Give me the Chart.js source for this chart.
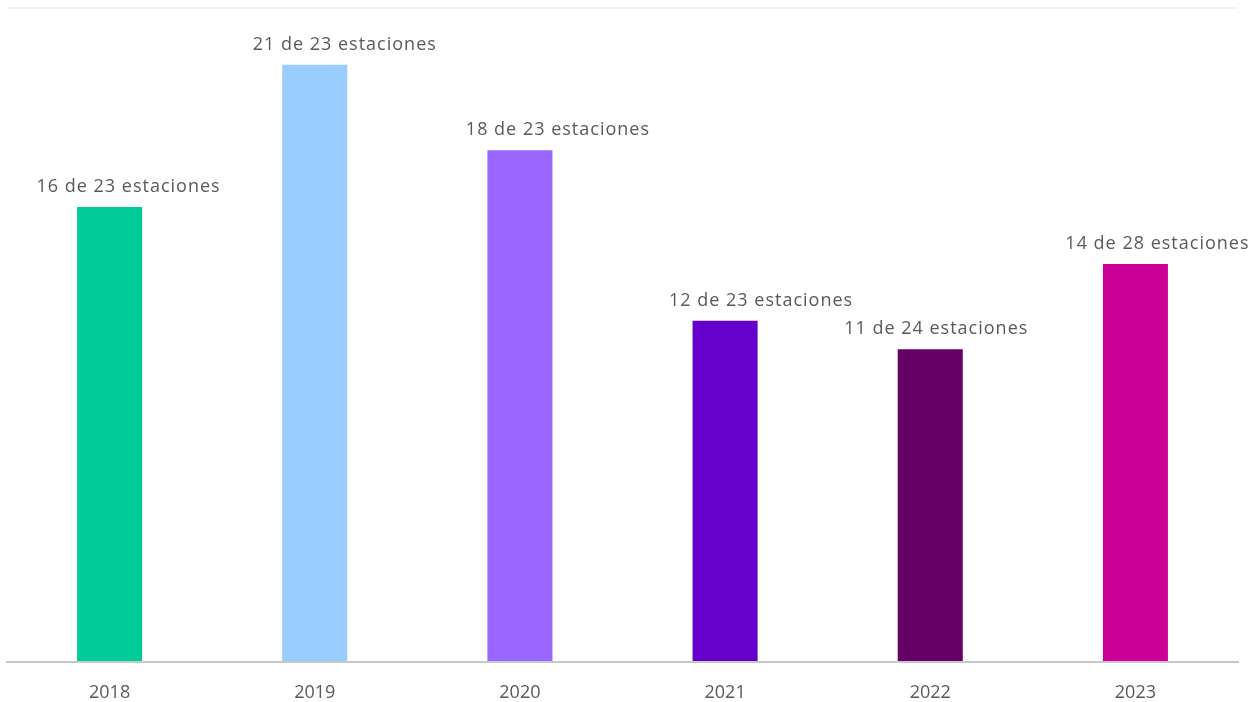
<!DOCTYPE html>
<html>
<head>
<meta charset="utf-8">
<script src="https://cdn.jsdelivr.net/npm/chart.js@4/dist/chart.umd.min.js"></script>
<style>
  html, body { margin: 0; padding: 0; background: #ffffff; }
  #wrap { width: 1259px; height: 702px; position: relative; }
</style>
</head>
<body>
<div id="wrap"><canvas id="chart" width="1259" height="702"></canvas></div>
<script>
const years = ['2018', '2019', '2020', '2021', '2022', '2023'];
const stationsOver = [16, 21, 18, 12, 11, 14];
const stationsTotal = [23, 23, 23, 23, 24, 28];
const barColors = ['#00CC99', '#99CCFF', '#9966FF', '#6600CC', '#660066', '#CC0099'];
const yMax = 23;

const barLabels = stationsOver.map((v, i) => v + ' de ' + stationsTotal[i] + ' estaciones');

// Bar annotations, nudged sideways per bar so they sit like the hand-placed originals
const labelPlugin = {
  id: 'barLabels',
  afterDatasetsDraw(chart, args, opts) {
    const ctx = chart.ctx;
    const meta = chart.getDatasetMeta(0);
    const shift = opts.shiftX || [];
    ctx.save();
    ctx.font = '18px "Open Sans", sans-serif';
    ctx.letterSpacing = '1px';
    ctx.fillStyle = '#595959';
    ctx.textAlign = 'center';
    ctx.textBaseline = 'bottom';
    meta.data.forEach((bar, i) => {
      ctx.fillText(barLabels[i], bar.x + (shift[i] || 0), bar.y - 11);
    });
    ctx.restore();
  }
};

new Chart(document.getElementById('chart'), {
  type: 'bar',
  data: {
    labels: years,
    datasets: [{
      data: stationsOver,
      backgroundColor: barColors,
      borderWidth: 0,
      categoryPercentage: 1,
      barPercentage: 0.317
    }]
  },
  options: {
    responsive: false,
    animation: false,
    layout: { padding: { left: 7, right: 21, top: 8, bottom: 0 } },
    plugins: {
      legend: { display: false },
      tooltip: { enabled: false },
      barLabels: { shiftX: [19, 30, 38, 36, 6, 22] }
    },
    scales: {
      x: {
        grid: { display: false },
        border: { display: true, color: '#c8c8c8', width: 2, z: 1 },
        ticks: {
          color: '#595959',
          font: { family: '"Open Sans", sans-serif', size: 18 },
          padding: 12
        },
        afterFit(scale) { scale.height = 40; }
      },
      y: {
        min: 0,
        max: yMax,
        display: true,
        border: { display: false },
        ticks: { display: false, stepSize: 23 },
        grid: {
          drawTicks: false,
          color: ctx => ctx.tick && ctx.tick.value === yMax ? '#f0f0f0' : 'rgba(0,0,0,0)',
          lineWidth: 2
        },
        afterFit(scale) { scale.width = 0; }
      }
    }
  },
  plugins: [labelPlugin]
});
</script>
</body>
</html>
